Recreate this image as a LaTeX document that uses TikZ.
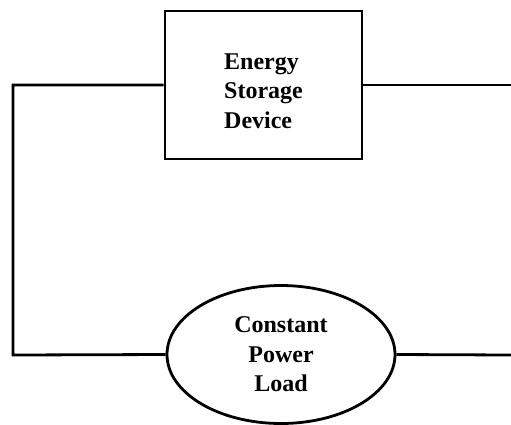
\documentclass[tikz,border=0pt]{standalone}
\usepackage{fontspec}
\setmainfont{Liberation Serif}
\usetikzlibrary{shapes.geometric}
\begin{document}
\begin{tikzpicture}[x=1pt,y=-1pt,every node/.style={font=\fontsize{24}{29.5}\selectfont\bfseries}]
    \tikzset{
      store/.style={draw,rectangle,line width=2.8pt,minimum width=197pt,
        minimum height=148pt,align=left,text height=87pt},
      cpl/.style={draw,ellipse,line width=2.8pt,minimum width=228pt,
        minimum height=138pt,inner sep=0pt,align=center},
      wire/.style={line width=2.8pt}
    }
    \useasboundingbox (0,0) rectangle (511,424);
    \node[store] (esd) at (263.5,85) {Energy\\Storage\\Device};
    \node[cpl] (load) at (281,354.5) {Constant\\Power\\Load};
    \coordinate (tl) at (13,85);
    \coordinate (bl) at (13,355);
    \coordinate (tr) at (511,85);
    \coordinate (br) at (511,355);
    \draw[wire] (esd.west) -- (tl) -- (bl) -- (load.west);
    \draw[wire] (esd.east) -- (tr);
    \draw[wire] (load.east) -- (br);
  \end{tikzpicture}
\end{document}
